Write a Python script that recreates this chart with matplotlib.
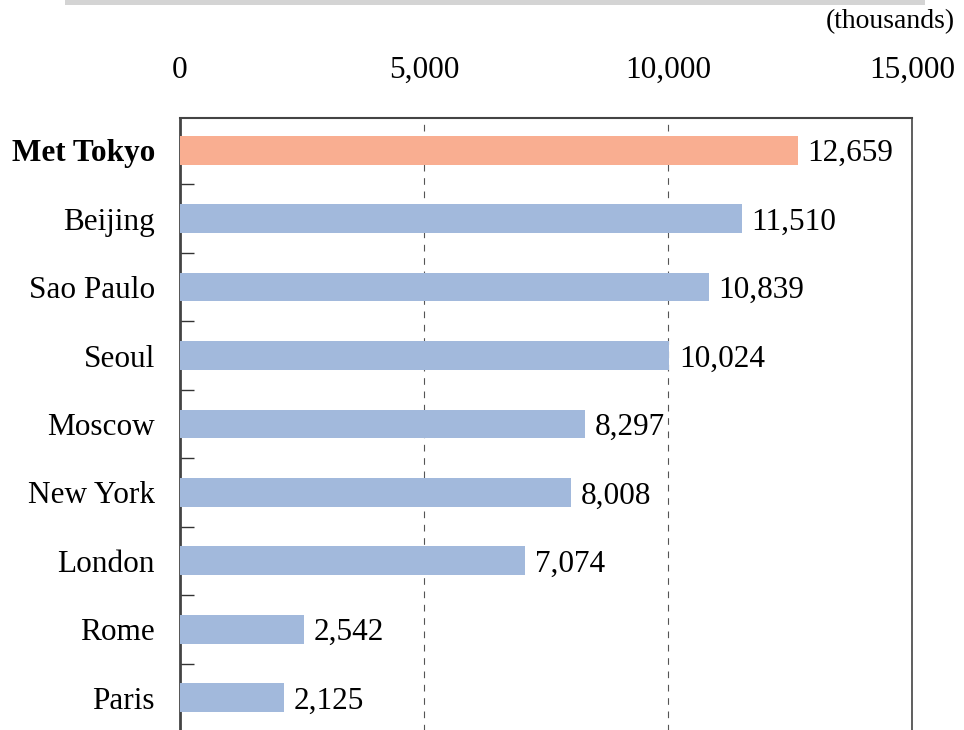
import numpy as np
import matplotlib.pyplot as plt
from matplotlib.patches import Rectangle

cities = ['Met Tokyo', 'Beijing', 'Sao Paulo', 'Seoul', 'Moscow',
          'New York', 'London', 'Rome', 'Paris']
population = [12659, 11510, 10839, 10024, 8297, 8008, 7074, 2542, 2125]
xticks = [0, 5000, 10000, 15000]

plt.rcParams['font.family'] = ['Liberation Serif', 'DejaVu Serif']

fig = plt.figure(figsize=(9.64, 7.3), dpi=100)
ax = fig.add_axes([180/964, -2/730, 732/964, 614/730])

y = np.arange(len(cities))
colors = ['#F9AE91'] + ['#A2B9DC'] * (len(cities) - 1)
ax.barh(y, population, height=0.42, color=colors, zorder=3)

for yi, v in zip(y, population):
    ax.text(v + 200, yi, f'{v:,}', va='center_baseline', ha='left', fontsize=22.5, zorder=4)

ax.set_xlim(0, 15000)
ax.set_ylim(8.5, -0.47)
ax.set_xticks(xticks)
ax.set_xticklabels([f'{t:,}' for t in xticks], fontsize=22.5)
ax.xaxis.tick_top()
ax.tick_params(axis='x', length=0, pad=24)
ax.grid(axis='x', linestyle=(0, (6, 6)), color='#555555', linewidth=0.8, zorder=0)

ax.set_yticks(y)
ax.set_yticklabels(cities, fontsize=22.5, va='center_baseline')
ax.get_yticklabels()[0].set_fontweight('bold')
ax.tick_params(axis='y', length=0, pad=18)
ax.set_yticks(y[:-1] + 0.5, minor=True)
ax.tick_params(axis='y', which='minor', length=10, direction='in', width=1, color='#333333')

for s in ['left', 'top', 'right']:
    ax.spines[s].set_color('#444444')
ax.spines['left'].set_linewidth(2)
ax.spines['top'].set_linewidth(1.5)
ax.spines['right'].set_linewidth(1.2)
ax.spines['bottom'].set_visible(False)

fig.text(955/964, 1 - 22/730, '(thousands)', ha='right', va='center', fontsize=20)
fig.patches.append(Rectangle((65/964, 1 - 5/730), 860/964, 5/730, transform=fig.transFigure,
                             facecolor='#d4d4d4', edgecolor='none'))

plt.savefig('out.png', dpi=100)
plt.close()
